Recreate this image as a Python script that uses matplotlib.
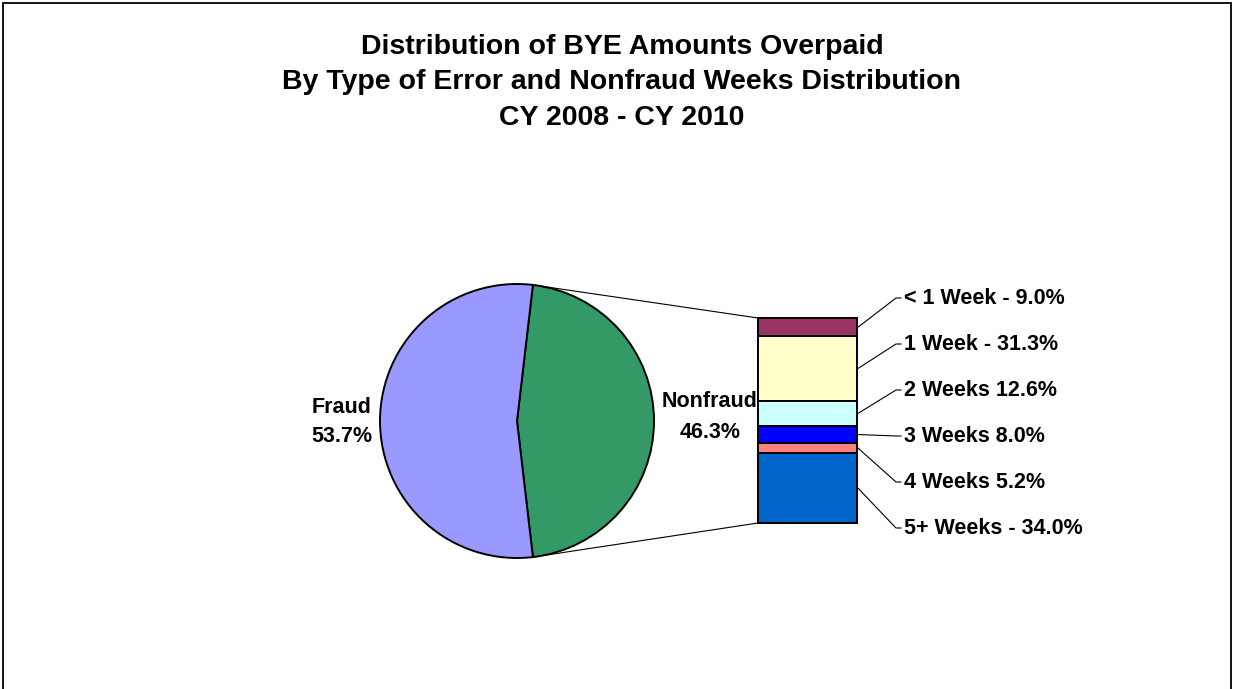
import matplotlib
matplotlib.use("Agg")
import matplotlib.pyplot as plt
from matplotlib.patches import ConnectionPatch, Rectangle
import numpy as np

plt.rcParams['font.family'] = ['Liberation Sans', 'DejaVu Sans']

title_lines = ["Distribution of BYE Amounts Overpaid",
               "By Type of Error and Nonfraud Weeks Distribution",
               "CY 2008 - CY 2010"]

pie_labels = ["Nonfraud", "Fraud"]
pie_values = [46.3, 53.7]
pie_colors = ["#339966", "#9999FF"]

week_labels = ["< 1 Week - 9.0%", "1 Week - 31.3%", "2 Weeks 12.6%",
               "3 Weeks 8.0%", "4 Weeks 5.2%", "5+ Weeks - 34.0%"]
week_values = [9.0, 31.3, 12.6, 8.0, 5.2, 34.0]
week_colors = ["#993366", "#FFFFCC", "#CCFFFF", "#0000FF", "#FF8080", "#0066CC"]

W, H = 1235, 689
fig = plt.figure(figsize=(W / 100, H / 100), dpi=100)
ax = fig.add_axes([0, 0, 1, 1])

# pie, nonfraud slice centred on the right side
cx, cy, r = 517, H - 421, 137
start = -pie_values[0] * 3.6 / 2
ax.pie(pie_values, colors=pie_colors, startangle=start, center=(cx, cy), radius=r,
       wedgeprops=dict(edgecolor='black', linewidth=1.4))
ax.set_xlim(0, W)
ax.set_ylim(0, H)
ax.axis('off')

# slice labels
ax.text(342, H - 422, f"{pie_labels[1]}\n{pie_values[1]:.1f}%", ha='center', va='center',
        fontsize=15.5, fontweight='bold', linespacing=1.55)
ax.text(710, H - 417, f"{pie_labels[0]}\n{pie_values[0]:.1f}%", ha='center', va='center',
        fontsize=15.5, fontweight='bold', linespacing=1.6)

# stacked bar for the nonfraud breakdown
bax = fig.add_axes([758 / W, (H - 523) / H, 99 / W, 205 / H])
total = sum(week_values)
bottoms = total - np.cumsum(week_values)
bax.bar([0] * len(week_values), week_values, bottom=bottoms, width=1,
        color=week_colors, edgecolor='black', linewidth=1.4, clip_on=False)
bax.set_xlim(-0.5, 0.5)
bax.set_ylim(0, total)
bax.axis('off')

# lines from pie to bar
th_bot = np.deg2rad(start)
th_top = np.deg2rad(start + pie_values[0] * 3.6)
for th, yb in [(th_top, total), (th_bot, 0)]:
    pt = (cx + r * np.cos(th), cy + r * np.sin(th))
    con = ConnectionPatch(xyA=pt, coordsA=ax.transData, xyB=(-0.5, yb), coordsB=bax.transData,
                          color='black', linewidth=0.8)
    fig.add_artist(con)

# leader lines and labels
label_y = [298, 344, 390, 436, 482, 528]
corner_x, text_x = 896, 904
fig.canvas.draw()
for lab, v, b, ly in zip(week_labels, week_values, bottoms, label_y):
    bx, by = ax.transData.inverted().transform(bax.transData.transform((0.5, b + v / 2)))
    ax.plot([bx + 1, corner_x, text_x - 3], [by, H - ly, H - ly], color='black', linewidth=0.8)
    ax.text(text_x, H - ly, lab, ha='left', va='center', fontsize=15.5, fontweight='bold')

# title
for line, y in zip(title_lines, [47, 82, 118]):
    fig.text(622 / W, 1 - y / H, line, ha='center', va='center', fontsize=20.5, fontweight='bold')

# outer border
fig.add_artist(Rectangle((3 / W, -0.02), 1228 / W, 1 - 3 / H + 0.02, transform=fig.transFigure,
                         fill=False, edgecolor='black', linewidth=1.3))

fig.savefig("out.png", dpi=100)
